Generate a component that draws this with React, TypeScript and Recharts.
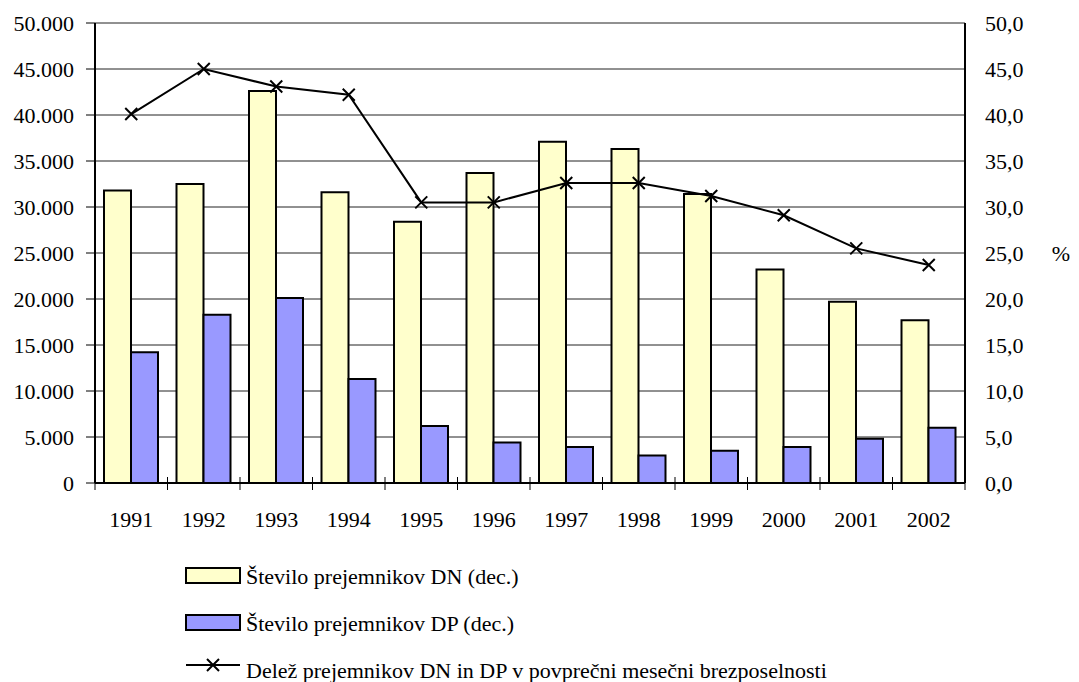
import React from 'react';
import { ComposedChart, Bar, Line, XAxis, YAxis, CartesianGrid } from 'recharts';

const years = ['1991', '1992', '1993', '1994', '1995', '1996', '1997', '1998', '1999', '2000', '2001', '2002'];
const dnValues = [31800, 32500, 42600, 31600, 28400, 33700, 37100, 36300, 31400, 23200, 19700, 17700];
const dpValues = [14200, 18300, 20100, 11300, 6200, 4400, 3900, 3000, 3500, 3900, 4800, 6000];
const sharePct = [40.1, 45.0, 43.1, 42.2, 30.5, 30.5, 32.6, 32.6, 31.2, 29.1, 25.5, 23.7];
const leftTicks = [0, 5000, 10000, 15000, 20000, 25000, 30000, 35000, 40000, 45000, 50000];
const rightTicks = [0, 5, 10, 15, 20, 25, 30, 35, 40, 45, 50];

const seriesNames = [
  'Število prejemnikov DN (dec.)',
  'Število prejemnikov DP (dec.)',
  'Delež prejemnikov DN in DP v povprečni mesečni brezposelnosti',
];

const data = years.map((y, i) => ({ year: y, dn: dnValues[i], dp: dpValues[i], pct: sharePct[i] }));

const FONT = 'Tinos, Liberation Serif, Times New Roman, serif';
const DN_COLOR = '#FFFFCC';
const DP_COLOR = '#9999FF';

const fmtLeft = (v: number) => (v === 0 ? '0' : v.toLocaleString('de-DE'));
const fmtRight = (v: number) => v.toFixed(1).replace('.', ',');

const XTick = (props: any) => {
  const { x, y, payload, index, visibleTicksCount, width } = props;
  const band = width / visibleTicksCount;
  const axisY = y - 28;
  return (
    <g>
      <line x1={x - band / 2} x2={x - band / 2} y1={axisY - 6} y2={axisY + 7} stroke="#000" strokeWidth={1} />
      {index === visibleTicksCount - 1 && (
        <line x1={x + band / 2} x2={x + band / 2} y1={axisY - 6} y2={axisY + 7} stroke="#000" strokeWidth={1} />
      )}
      <text x={x} y={y} dy="0.71em" textAnchor="middle" fontFamily={FONT} fontSize={22} fill="#000">
        {payload.value}
      </text>
    </g>
  );
};

const XDot = (props: any) => {
  const { cx, cy, index } = props;
  if (cx == null || cy == null) return null;
  const s = 6;
  return (
    <path
      key={`xd-${index}`}
      d={`M${cx - s},${cy - s}L${cx + s},${cy + s}M${cx + s},${cy - s}L${cx - s},${cy + s}`}
      stroke="#000"
      strokeWidth={2}
      fill="none"
    />
  );
};

export default function App() {
  return (
    <div>
      <svg width={1079} height={140} style={{ position: 'absolute', left: 0, top: 542 }}>
        <rect x={186} y={26} width={54} height={15} fill={DN_COLOR} stroke="#000" strokeWidth={2} />
        <text x={246} y={42} fontFamily={FONT} fontSize={22} fill="#000">{seriesNames[0]}</text>
        <rect x={186} y={73} width={54} height={15} fill={DP_COLOR} stroke="#000" strokeWidth={2} />
        <text x={246} y={89} fontFamily={FONT} fontSize={22} fill="#000">{seriesNames[1]}</text>
        <line x1={186} x2={240} y1={123} y2={123} stroke="#000" strokeWidth={2} />
        <path d="M207,117L219,129M219,117L207,129" stroke="#000" strokeWidth={2} fill="none" />
        <text x={246} y={136} fontFamily={FONT} fontSize={22} fill="#000">{seriesNames[2]}</text>
      </svg>
      <ComposedChart
        width={1071}
        height={674}
        data={data}
        margin={{ top: 15, right: 0, bottom: 139, left: 0 }}
        barGap={0}
      >
        <CartesianGrid vertical={false} stroke="#222" strokeWidth={1} yAxisId="left" />
        <XAxis
          dataKey="year"
          height={60}
          axisLine={{ stroke: '#000', strokeWidth: 2 }}
          tickLine={false}
          tickSize={0}
          tickMargin={28}
          tick={<XTick />}
          interval={0}
        />
        <YAxis
          yAxisId="left"
          orientation="left"
          width={87}
          domain={[0, 50000]}
          ticks={leftTicks}
          tickFormatter={fmtLeft}
          axisLine={{ stroke: '#000', strokeWidth: 2 }}
          tickLine={{ stroke: '#000', strokeWidth: 1 }}
          tickSize={9}
          tickMargin={12}
          tick={{ fontFamily: FONT, fontSize: 22, fill: '#000' }}
          interval={0}
        />
        <YAxis
          yAxisId="right"
          orientation="right"
          width={114}
          domain={[0, 50]}
          ticks={rightTicks}
          tickFormatter={fmtRight}
          axisLine={{ stroke: '#000', strokeWidth: 2 }}
          tickLine={false}
          tickSize={9}
          tickMargin={11}
          tick={{ fontFamily: FONT, fontSize: 22, fill: '#000', textAnchor: 'start' }}
          interval={0}
          label={{ value: '%', position: 'insideRight', offset: 9, fontFamily: FONT, fontSize: 22, fill: '#000' }}
        />
        <Bar yAxisId="left" dataKey="dn" name={seriesNames[0]} fill={DN_COLOR} stroke="#000" strokeWidth={2} barSize={27} isAnimationActive={false} />
        <Bar yAxisId="left" dataKey="dp" name={seriesNames[1]} fill={DP_COLOR} stroke="#000" strokeWidth={2} barSize={27} isAnimationActive={false} />
        <Line
          yAxisId="right"
          dataKey="pct"
          name={seriesNames[2]}
          stroke="#000"
          strokeWidth={2}
          dot={<XDot />}
          activeDot={false}
          isAnimationActive={false}
        />
      </ComposedChart>
    </div>
  );
}
